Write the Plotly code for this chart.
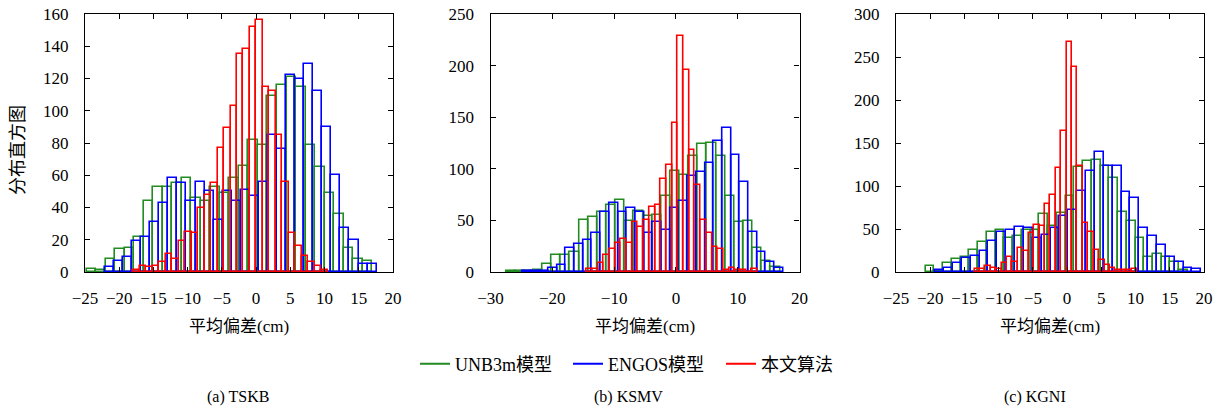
import numpy as np
import plotly.graph_objects as go
from plotly.subplots import make_subplots

# ---------------- data ----------------
series_names = ["UNB3m模型", "ENGOS模型", "本文算法"]
station_captions = ["(a) TSKB", "(b) KSMV", "(c) KGNI"]
x_label = "平均偏差(cm)"
y_label = "分布直方图"

# histogram bin specification (start of first bin, bin width), 30 bins each
tskb_bins = {"unb3m": (-24.75, 1.39), "engos": (-22.08, 1.323), "ours": (-17.96, 0.948)}
ksmv_bins = {"unb3m": (-27.49, 1.478), "engos": (-24.85, 1.408), "ours": (-14.44, 0.922)}
kgni_bins = {"unb3m": (-20.68, 1.278), "engos": (-19.27, 1.296), "ours": (-13.52, 0.791)}

tskb_unb3m = [2, 1, 8, 14, 15, 22, 44, 53, 53, 55, 58, 46, 44, 53, 49, 58, 66, 82, 79, 109,
              116, 121, 115, 79, 65, 49, 36, 15, 8, 7]
tskb_engos = [3, 7, 9, 19, 22, 31, 43, 58, 55, 44, 56, 50, 32, 50, 44, 51, 47, 56, 85, 76,
              122, 120, 129, 112, 90, 60, 27, 20, 5, 5]
tskb_ours = [1, 4, 3, 4, 6, 11, 8, 19, 25, 24, 40, 48, 55, 77, 89, 103, 135, 138, 152, 156,
             115, 112, 85, 56, 24, 16, 10, 6, 4, 1]

ksmv_unb3m = [1, 1, 1, 2, 8, 16, 16, 19, 50, 53, 58, 65, 70, 49, 59, 54, 55, 74, 98, 94,
              112, 124, 125, 112, 74, 48, 49, 23, 11, 5]
ksmv_engos = [1, 1, 1, 4, 7, 23, 27, 31, 38, 58, 67, 58, 62, 58, 38, 48, 41, 62, 69, 93,
              97, 106, 127, 140, 113, 87, 39, 19, 10, 4]
ksmv_ours = [3, 3, 9, 16, 22, 28, 32, 28, 48, 44, 50, 63, 65, 90, 104, 144, 229, 196, 118, 84,
             50, 38, 24, 22, 2, 4, 2, 2, 0, 3]

kgni_unb3m = [7, 1, 10, 15, 18, 26, 35, 47, 49, 40, 42, 49, 49, 68, 54, 69, 88, 122, 129, 130,
              123, 109, 70, 59, 40, 18, 21, 17, 12, 2]
kgni_engos = [2, 5, 10, 16, 19, 24, 36, 47, 49, 52, 51, 39, 43, 51, 65, 72, 94, 117, 139, 123,
              123, 93, 86, 51, 42, 31, 18, 12, 5, 3]
kgni_ours = [4, 3, 7, 5, 4, 11, 17, 12, 28, 25, 45, 55, 53, 79, 89, 121, 164, 268, 238, 123,
             57, 46, 26, 14, 8, 5, 2, 2, 2, 3]

x_ranges = [(-25, 20), (-30, 20), (-25, 20)]
x_dticks = [5, 10, 5]
y_ranges = [(0, 160), (0, 250), (0, 300)]
y_dticks = [20, 50, 50]

# ---------------- style ----------------
colors = ["rgb(34,139,34)", "rgb(0,0,255)", "rgb(255,0,0)"]
FONT = "Liberation Serif, Noto Sans CJK SC, serif"
W, H = 1216, 407

panels = [
    (tskb_bins, [tskb_unb3m, tskb_engos, tskb_ours]),
    (ksmv_bins, [ksmv_unb3m, ksmv_engos, ksmv_ours]),
    (kgni_bins, [kgni_unb3m, kgni_engos, kgni_ours]),
]
keys = ["unb3m", "engos", "ours"]

fig = make_subplots(rows=1, cols=3)

for p, (bins, counts_list) in enumerate(panels):
    for s, (key, counts) in enumerate(zip(keys, counts_list)):
        start, width = bins[key]
        centers = start + width * (np.arange(len(counts)) + 0.5)
        fig.add_trace(go.Bar(
            x=centers, y=counts, width=width,
            marker=dict(color="rgba(0,0,0,0)", line=dict(color=colors[s], width=1.6)),
            showlegend=False, hoverinfo="x+y",
        ), row=1, col=p + 1)

# legend entries as line samples
for s in range(3):
    fig.add_trace(go.Scatter(x=[None], y=[None], mode="lines",
                             line=dict(color=colors[s], width=2),
                             name=series_names[s], showlegend=True), row=1, col=1)

x_domains_px = [(85, 393), (490.5, 799.5), (896, 1204)]
y_dom = [(H - 272) / H, (H - 14) / H]

for p in range(3):
    xd = [x_domains_px[p][0] / W, x_domains_px[p][1] / W]
    fig.update_xaxes(domain=xd, range=list(x_ranges[p]), dtick=x_dticks[p], tick0=0,
                     showgrid=False, zeroline=False, showline=True, linecolor="black",
                     linewidth=1.2, mirror="ticks", ticks="inside", ticklen=5,
                     tickcolor="black", ticklabelstandoff=10, automargin=False,
                     tickfont=dict(family=FONT, size=17, color="black"),
                     row=1, col=p + 1)
    fig.update_yaxes(domain=y_dom, range=list(y_ranges[p]), dtick=y_dticks[p], tick0=0,
                     showgrid=False, zeroline=False, showline=True, linecolor="black",
                     linewidth=1.2, mirror="ticks", ticks="inside", ticklen=5,
                     tickcolor="black", ticklabelstandoff=12, automargin=False,
                     tickfont=dict(family=FONT, size=17, color="black"),
                     row=1, col=p + 1)

annotations = []
for p in range(3):
    cx = (x_domains_px[p][0] + x_domains_px[p][1]) / 2 / W
    annotations.append(dict(text=x_label, x=cx, y=(H - 326) / H, xref="paper", yref="paper",
                            showarrow=False, xanchor="center", yanchor="middle",
                            font=dict(family=FONT, size=17, color="black")))
caption_x = [238, 628, 1035]
for p in range(3):
    annotations.append(dict(text=station_captions[p], x=caption_x[p] / W, y=(H - 397) / H,
                            xref="paper", yref="paper", showarrow=False,
                            xanchor="center", yanchor="middle",
                            font=dict(family=FONT, size=16, color="black")))
annotations.append(dict(text=y_label, x=18 / W, y=(H - 150) / H, xref="paper", yref="paper",
                        showarrow=False, textangle=-90, xanchor="center", yanchor="middle",
                        font=dict(family=FONT, size=18, color="black")))

fig.update_layout(
    width=W, height=H, autosize=False,
    margin=dict(l=0, r=0, t=0, b=0, autoexpand=False),
    paper_bgcolor="white", plot_bgcolor="white",
    barmode="overlay", bargap=0,
    annotations=annotations,
    legend=dict(orientation="h", x=415 / W, xanchor="left", y=(H - 364) / H, yanchor="middle",
                font=dict(family=FONT, size=18, color="black"), itemwidth=30,
                entrywidth=108, entrywidthmode="pixels",
                bgcolor="rgba(0,0,0,0)"),
)

fig.write_html("out.html", config={"displayModeBar": False},
               post_script="document.body.style.margin='0px';document.body.style.overflow='hidden';")
